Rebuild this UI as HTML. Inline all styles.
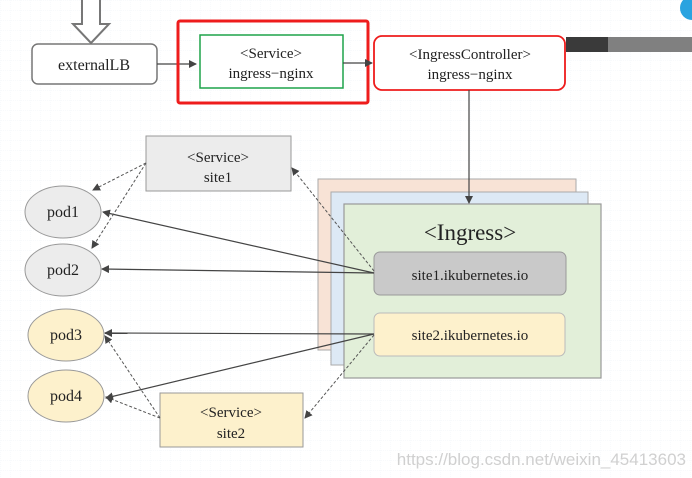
<!DOCTYPE html>
<html><head><meta charset="utf-8"><style>
html,body{margin:0;padding:0;background:#fff;}
svg{display:block;font-family:"Liberation Serif",serif;}
</style></head><body>
<svg width="692" height="478" viewBox="0 0 692 478" xmlns="http://www.w3.org/2000/svg">
<defs>
<pattern id="g" width="10" height="10" patternUnits="userSpaceOnUse"><path d="M10 0H0V10" fill="none" stroke="#e6edf3" stroke-width="0.6" stroke-dasharray="1 1"/></pattern>
<marker id="a" markerWidth="8" markerHeight="8" refX="7" refY="4" orient="auto" markerUnits="userSpaceOnUse"><path d="M0,0 L8,4 L0,8 z" fill="#444"/></marker>
</defs>
<rect width="692" height="478" fill="url(#g)"/>
<circle cx="692" cy="8" r="12" fill="#29a3e0"/>
<!-- top hollow arrow -->
<path d="M82,0 V24 H73 L91,43 L109,24 H100 V0" fill="#fff" stroke="#777" stroke-width="2"/>
<rect x="32" y="44" width="125" height="40" rx="6" fill="#fff" stroke="#777" stroke-width="1.5"/>
<text x="94" y="70" font-size="16" text-anchor="middle" fill="#222">externalLB</text>
<line x1="157" y1="64" x2="196" y2="64" stroke="#444" stroke-width="1.2" marker-end="url(#a)"/>
<rect x="178" y="21" width="190" height="82" rx="2" fill="none" stroke="#ee1c1c" stroke-width="3"/>
<rect x="200" y="35" width="143" height="53" fill="#fff" stroke="#1ea34a" stroke-width="1.5"/>
<text x="271" y="58" font-size="15" text-anchor="middle" fill="#222">&lt;Service&gt;</text>
<text x="271" y="78" font-size="15" text-anchor="middle" fill="#222">ingress−nginx</text>
<line x1="343" y1="63" x2="372" y2="63" stroke="#444" stroke-width="1.2" marker-end="url(#a)"/>
<rect x="566" y="37" width="42" height="15" fill="#3a3a3a"/>
<rect x="608" y="37" width="84" height="15" fill="#808080"/>
<rect x="374" y="36" width="191" height="54" rx="8" fill="#fff" stroke="#ee1c1c" stroke-width="1.8"/>
<text x="470" y="59" font-size="15" text-anchor="middle" fill="#222">&lt;IngressController&gt;</text>
<text x="470" y="79" font-size="15" text-anchor="middle" fill="#222">ingress−nginx</text>
<!-- ingress stack -->
<rect x="318" y="179" width="258" height="171" fill="#f8e3d6" stroke="#aaa"/>
<rect x="331" y="192" width="257" height="173" fill="#dde9f5" stroke="#aaa"/>
<rect x="344" y="204" width="257" height="174" fill="#e2efd9" stroke="#999" stroke-width="1.2"/>
<line x1="469" y1="90" x2="469" y2="203" stroke="#444" stroke-width="1.2" marker-end="url(#a)"/>
<text x="470" y="240" font-size="23" text-anchor="middle" fill="#222">&lt;Ingress&gt;</text>
<rect x="374" y="252" width="192" height="43" rx="6" fill="#c9c9c9" stroke="#999"/>
<text x="470" y="280" font-size="15" text-anchor="middle" fill="#222">site1.ikubernetes.io</text>
<rect x="374" y="313" width="191" height="43" rx="6" fill="#fdf1cc" stroke="#bbb"/>
<text x="470" y="340" font-size="15" text-anchor="middle" fill="#222">site2.ikubernetes.io</text>
<!-- service site1 -->
<rect x="146" y="136" width="145" height="55" fill="#ececec" stroke="#999"/>
<text x="218" y="162" font-size="15" text-anchor="middle" fill="#222">&lt;Service&gt;</text>
<text x="218" y="182" font-size="15" text-anchor="middle" fill="#222">site1</text>
<!-- service site2 -->
<rect x="160" y="393" width="143" height="54" fill="#fdf1cc" stroke="#999"/>
<text x="231" y="417" font-size="15" text-anchor="middle" fill="#222">&lt;Service&gt;</text>
<text x="231" y="438" font-size="15" text-anchor="middle" fill="#222">site2</text>
<!-- pods -->
<ellipse cx="63" cy="212" rx="38" ry="26" fill="#ececec" stroke="#999"/>
<text x="63" y="217" font-size="16" text-anchor="middle" fill="#222">pod1</text>
<ellipse cx="63" cy="270" rx="38" ry="26" fill="#ececec" stroke="#999"/>
<text x="63" y="275" font-size="16" text-anchor="middle" fill="#222">pod2</text>
<ellipse cx="66" cy="335" rx="38" ry="26" fill="#fdf1cc" stroke="#999"/>
<text x="66" y="340" font-size="16" text-anchor="middle" fill="#222">pod3</text>
<ellipse cx="66" cy="396" rx="38" ry="26" fill="#fdf1cc" stroke="#999"/>
<text x="66" y="401" font-size="16" text-anchor="middle" fill="#222">pod4</text>
<!-- solid connectors -->
<g stroke="#444" stroke-width="1.2" fill="none" marker-end="url(#a)">
<line x1="374" y1="273" x2="103" y2="212"/>
<line x1="374" y1="273" x2="102" y2="269"/>
<line x1="374" y1="334" x2="105" y2="333"/>
<line x1="374" y1="334" x2="106" y2="398"/>
</g>
<!-- dashed connectors -->
<g stroke="#555" stroke-width="1" fill="none" stroke-dasharray="3 2" marker-end="url(#a)">
<line x1="146" y1="163" x2="93" y2="190"/>
<line x1="146" y1="163" x2="92" y2="248"/>
<line x1="374" y1="271" x2="292" y2="168"/>
<line x1="374" y1="335" x2="305" y2="418"/>
<line x1="160" y1="418" x2="105" y2="336"/>
<line x1="160" y1="418" x2="106" y2="397"/>
</g>
<text x="686" y="465" font-size="17" font-family="Liberation Sans, sans-serif" text-anchor="end" fill="#d0d0d0">https://blog.csdn.net/weixin_45413603</text>
</svg>
</body></html>
